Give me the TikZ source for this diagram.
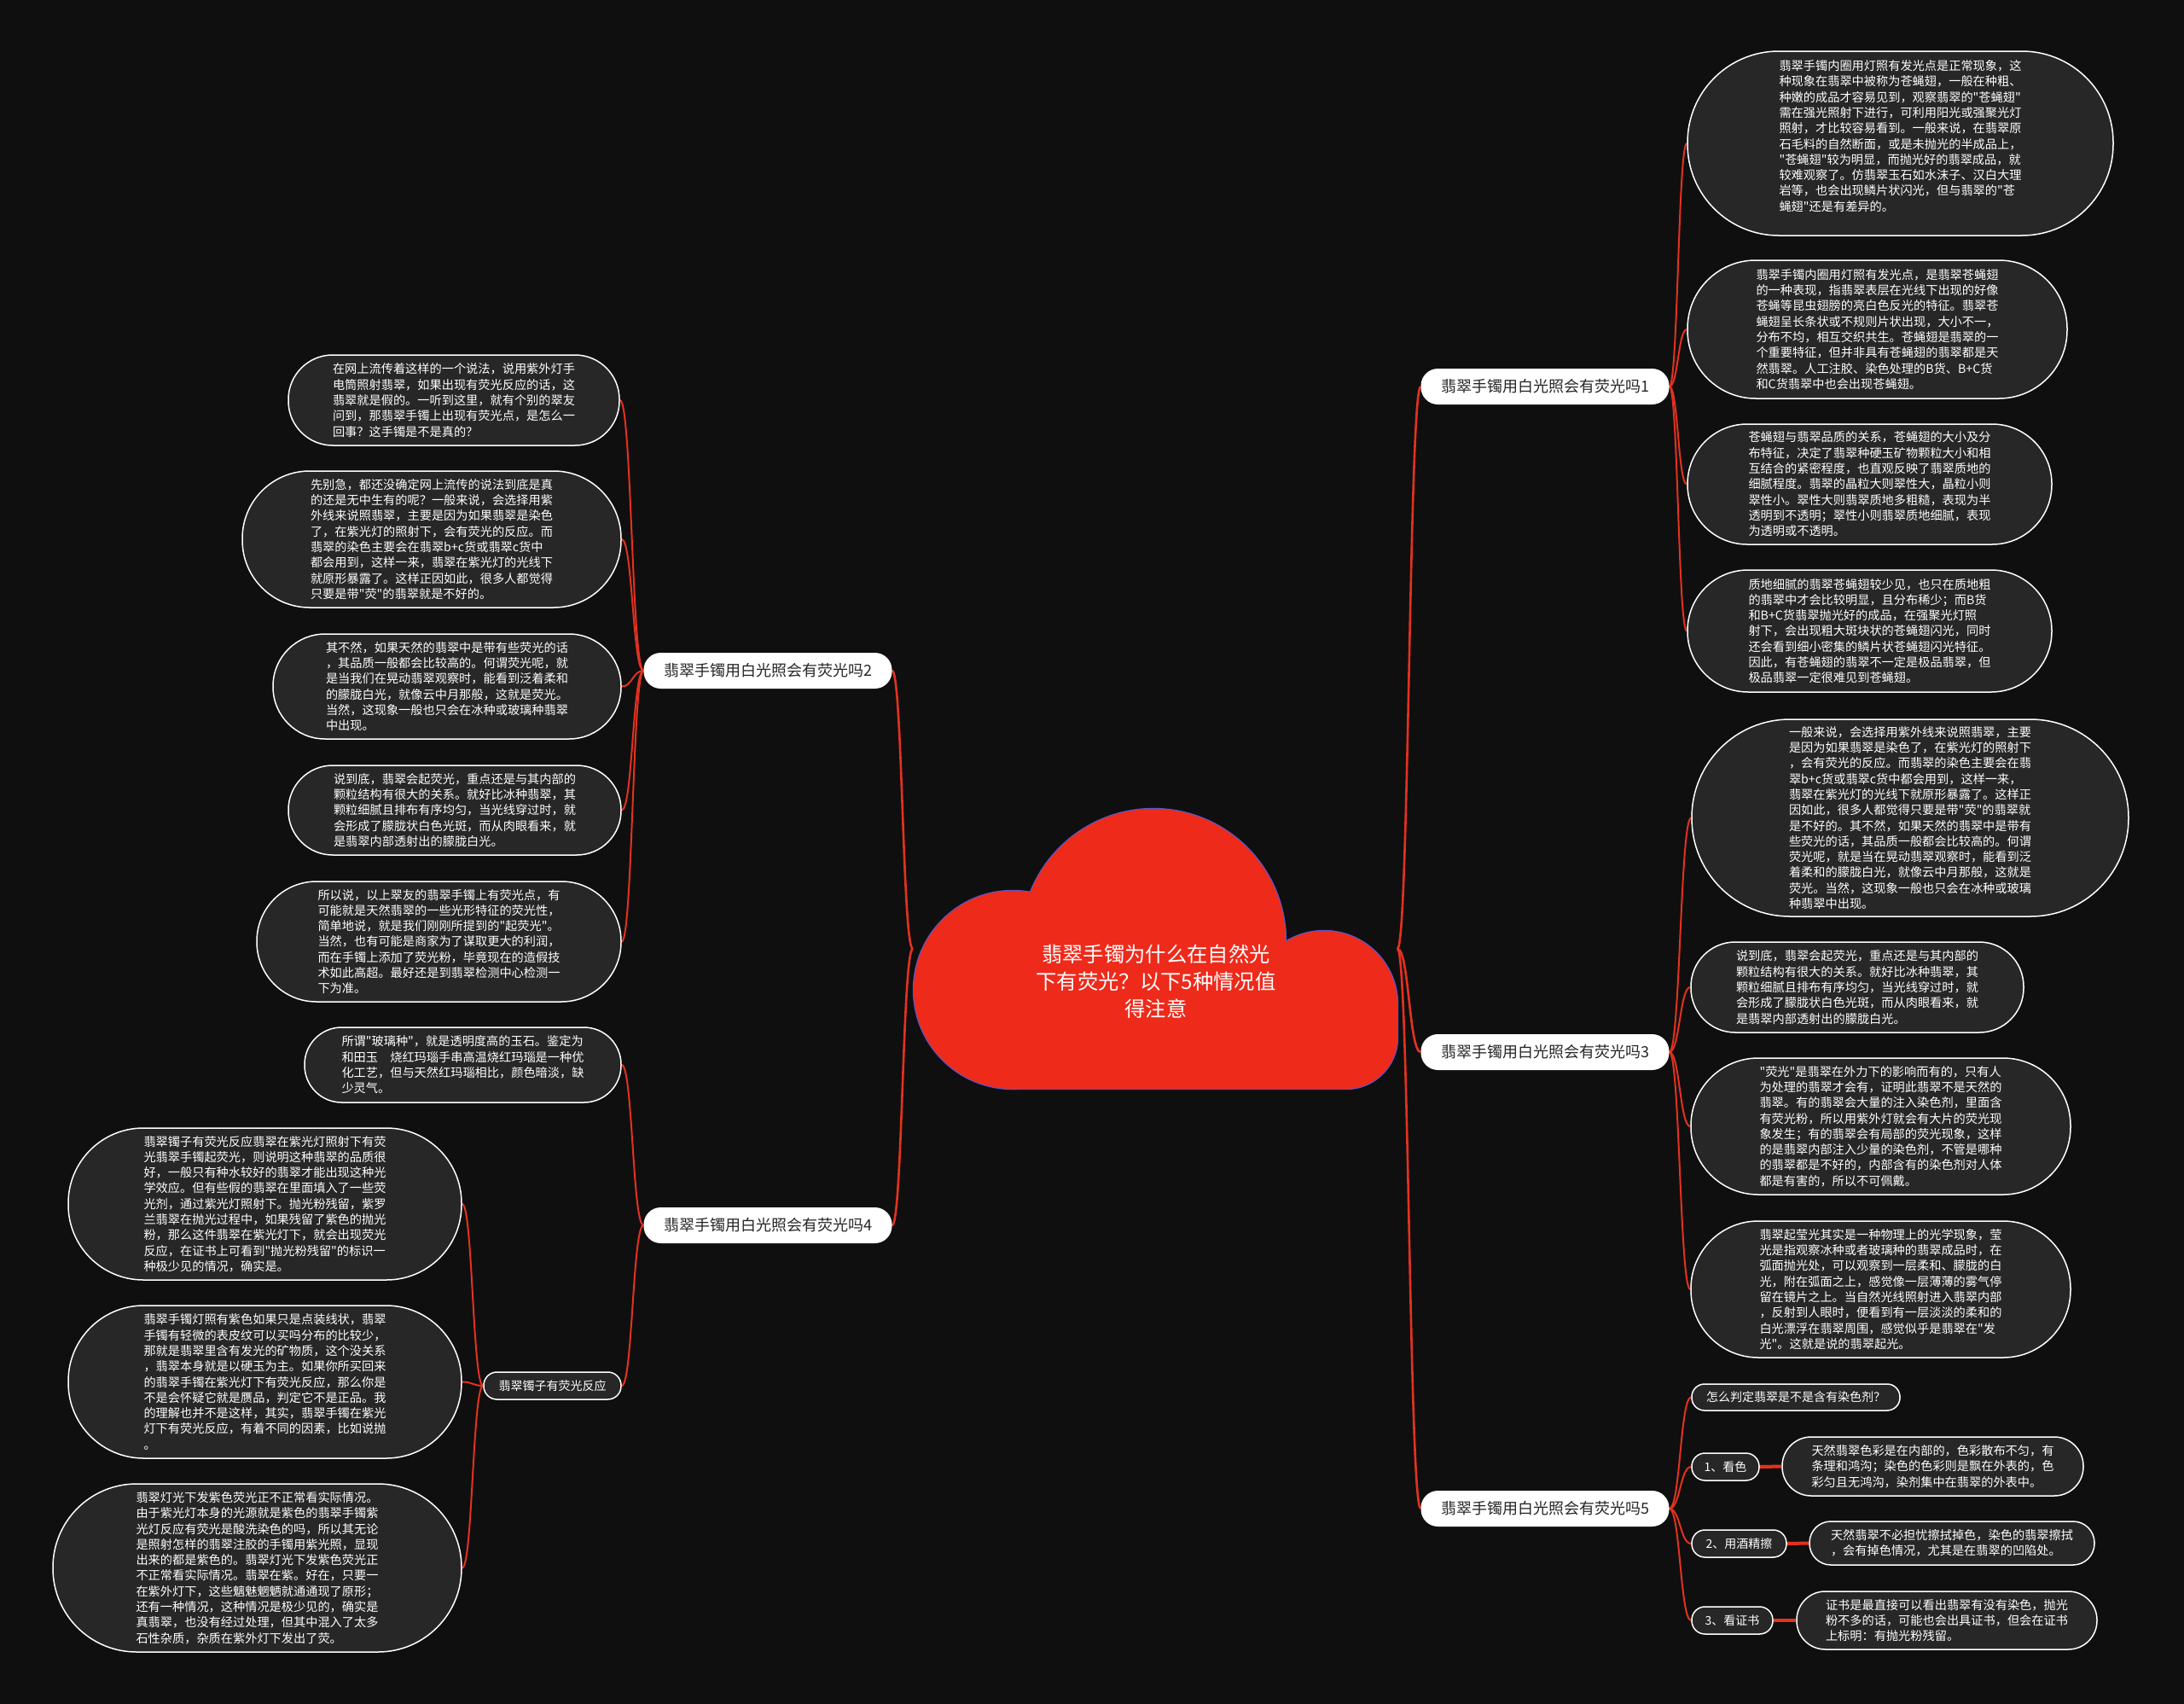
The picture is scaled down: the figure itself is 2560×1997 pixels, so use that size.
\documentclass[tikz,border=0pt]{standalone}
\usepackage{fontspec}
\newfontfamily\cjkfont{Noto Sans CJK SC}
\usetikzlibrary{calc}
\definecolor{bgblack}{HTML}{0F0F0F}
\definecolor{leafgray}{HTML}{272727}
\definecolor{linered}{HTML}{E3321F}
\definecolor{cloudred}{HTML}{EE2A1B}
\definecolor{cloudedge}{HTML}{5A56C8}
\pgfdeclarelayer{back}
\pgfdeclarelayer{edges}
\pgfsetlayers{back,edges,main}
\newcommand\mconn[3][]{\draw[conn,#1] let \p1=(#2), \p2=(#3) in (\p1) .. controls ({(\x1+\x2)/2},\y1) and ({(\x1+\x2)/2},\y2) .. (\p2);}
\tikzset{
  leaf/.style n args={3}{draw=white, line width=1.5pt, fill=leafgray, text=white,
    font=\cjkfont\fontsize{14.2}{18.3}\selectfont, align=left, inner sep=0pt,
    minimum width=#1pt, minimum height=#2pt, rounded corners=#3pt},
  small/.style n args={3}{leaf={#1}{#2}{#3}, font=\cjkfont\fontsize{14}{17}\selectfont},
  branch/.style={fill=white, text=black!85, font=\cjkfont\fontsize{18}{22}\selectfont,
    rounded corners=20pt, minimum width=291pt, minimum height=42pt, inner sep=0pt},
  roottext/.style={text=white, font=\cjkfont\fontsize{24.3}{32}\selectfont, align=center, inner sep=0pt},
  conn/.style={draw=linered, line width=2pt},
  rootconn/.style={draw=linered, line width=2.6pt},
  thickconn/.style={draw=linered, line width=4pt},
}
\begin{document}
\begin{tikzpicture}[x=1pt, y=-1pt]
\begin{pgfonlayer}{back}
\fill[bgblack] (0,0) rectangle (2560,1997);
\end{pgfonlayer}
\useasboundingbox (0,0) rectangle (2560,1997);

% ---------- cloud ----------
\draw[cloudedge, line width=2.4pt] (1352,1103) circle[radius=155pt];
\draw[cloudedge, line width=2.4pt] (1187,1160) circle[radius=116pt];
\draw[cloudedge, line width=2.4pt] (1552,1177) circle[radius=86pt];
\draw[cloudedge, line width=2.4pt] (1187,1180) -- (1187,1276) -- (1578,1276) .. controls (1611,1276) and (1638,1249) .. (1638,1216) -- (1638,1180) -- cycle;
\fill[cloudred] (1352,1103) circle[radius=155pt];
\fill[cloudred] (1187,1160) circle[radius=116pt];
\fill[cloudred] (1552,1177) circle[radius=86pt];
\fill[cloudred] (1187,1180) -- (1187,1276) -- (1578,1276) .. controls (1611,1276) and (1638,1249) .. (1638,1216) -- (1638,1180) -- cycle;
\node[roottext] (root) at (1355,1150) {翡翠手镯为什么在自然光\\下有荧光？以下5种情况值\\得注意};
\coordinate (rootR) at (1638,1112);
\coordinate (rootL) at (1070,1112);

% ---------- branches ----------
\node[branch] (b1) at (1811,453) {翡翠手镯用白光照会有荧光吗1};
\node[branch] (b3) at (1811,1233) {翡翠手镯用白光照会有荧光吗3};
\node[branch] (b5) at (1811,1768) {翡翠手镯用白光照会有荧光吗5};
\node[branch] (b2) at (900,786) {翡翠手镯用白光照会有荧光吗2};
\node[branch] (b4) at (900,1436) {翡翠手镯用白光照会有荧光吗4};

% ---------- branch 1 leaves ----------
\node[leaf={499}{216}{107}] (c1a) at (2227.5,168) {翡翠手镯内圈用灯照有发光点是正常现象，这\\%
种现象在翡翠中被称为苍蝇翅，一般在种粗、\\%
种嫩的成品才容易见到，观察翡翠的"苍蝇翅"\\%
需在强光照射下进行，可利用阳光或强聚光灯\\%
照射，才比较容易看到。一般来说，在翡翠原\\%
石毛料的自然断面，或是未抛光的半成品上，\\%
"苍蝇翅"较为明显，而抛光好的翡翠成品，就\\%
较难观察了。仿翡翠玉石如水沫子、汉白大理\\%
岩等，也会出现鳞片状闪光，但与翡翠的"苍\\%
蝇翅"还是有差异的。\\\mbox{}};
\node[leaf={445}{162}{80}] (c1b) at (2200.5,386) {翡翠手镯内圈用灯照有发光点，是翡翠苍蝇翅\\%
的一种表现，指翡翠表层在光线下出现的好像\\%
苍蝇等昆虫翅膀的亮白色反光的特征。翡翠苍\\%
蝇翅呈长条状或不规则片状出现，大小不一，\\%
分布不均，相互交织共生。苍蝇翅是翡翠的一\\%
个重要特征，但并非具有苍蝇翅的翡翠都是天\\%
然翡翠。人工注胶、染色处理的B货、B+C货\\%
和C货翡翠中也会出现苍蝇翅。};
\node[leaf={427}{141}{70}] (c1c) at (2191.5,567.5) {苍蝇翅与翡翠品质的关系，苍蝇翅的大小及分\\%
布特征，决定了翡翠种硬玉矿物颗粒大小和相\\%
互结合的紧密程度，也直观反映了翡翠质地的\\%
细腻程度。翡翠的晶粒大则翠性大，晶粒小则\\%
翠性小。翠性大则翡翠质地多粗糙，表现为半\\%
透明到不透明；翠性小则翡翠质地细腻，表现\\%
为透明或不透明。};
\node[leaf={427}{143}{71}] (c1d) at (2191.5,739.5) {质地细腻的翡翠苍蝇翅较少见，也只在质地粗\\%
的翡翠中才会比较明显，且分布稀少；而B货\\%
和B+C货翡翠抛光好的成品，在强聚光灯照\\%
射下，会出现粗大斑块状的苍蝇翅闪光，同时\\%
还会看到细小密集的鳞片状苍蝇翅闪光特征。\\%
因此，有苍蝇翅的翡翠不一定是极品翡翠，但\\%
极品翡翠一定很难见到苍蝇翅。};

% ---------- branch 3 leaves ----------
\node[leaf={512}{231}{115}] (c3a) at (2239,958.5) {一般来说，会选择用紫外线来说照翡翠，主要\\%
是因为如果翡翠是染色了，在紫光灯的照射下\\%
，会有荧光的反应。而翡翠的染色主要会在翡\\%
翠b+c货或翡翠c货中都会用到，这样一来，\\%
翡翠在紫光灯的光线下就原形暴露了。这样正\\%
因如此，很多人都觉得只要是带"荧"的翡翠就\\%
是不好的。其不然，如果天然的翡翠中是带有\\%
些荧光的话，其品质一般都会比较高的。何谓\\%
荧光呢，就是当在晃动翡翠观察时，能看到泛\\%
着柔和的朦胧白光，就像云中月那般，这就是\\%
荧光。当然，这现象一般也只会在冰种或玻璃\\%
种翡翠中出现。};
\node[leaf={390}{106}{52}] (c3b) at (2177,1157) {说到底，翡翠会起荧光，重点还是与其内部的\\%
颗粒结构有很大的关系。就好比冰种翡翠，其\\%
颗粒细腻且排布有序均匀，当光线穿过时，就\\%
会形成了朦胧状白色光斑，而从肉眼看来，就\\%
是翡翠内部透射出的朦胧白光。};
\node[leaf={445}{160}{79}] (c3c) at (2204.5,1320) {"荧光"是翡翠在外力下的影响而有的，只有人\\%
为处理的翡翠才会有，证明此翡翠不是天然的\\%
翡翠。有的翡翠会大量的注入染色剂，里面含\\%
有荧光粉，所以用紫外灯就会有大片的荧光现\\%
象发生；有的翡翠会有局部的荧光现象，这样\\%
的是翡翠内部注入少量的染色剂，不管是哪种\\%
的翡翠都是不好的，内部含有的染色剂对人体\\%
都是有害的，所以不可佩戴。};
\node[leaf={445}{160}{79}] (c3d) at (2204.5,1511) {翡翠起莹光其实是一种物理上的光学现象，莹\\%
光是指观察冰种或者玻璃种的翡翠成品时，在\\%
弧面抛光处，可以观察到一层柔和、朦胧的白\\%
光，附在弧面之上，感觉像一层薄薄的雾气停\\%
留在镜片之上。当自然光线照射进入翡翠内部\\%
，反射到人眼时，便看到有一层淡淡的柔和的\\%
白光漂浮在翡翠周围，感觉似乎是翡翠在"发\\%
光"。这就是说的翡翠起光。};

% ---------- branch 5 ----------
\node[small={244}{31}{15}] (q5) at (2105,1637.5) {怎么判定翡翠是不是含有染色剂？};
\node[small={79}{32}{15.5}] (s1) at (2022.5,1719) {1、看色};
\node[small={111}{32}{15.5}] (s2) at (2038.5,1809) {2、用酒精擦};
\node[small={95}{32}{15.5}] (s3) at (2030.5,1899) {3、看证书};
\node[leaf={353}{69}{34}] (s1c) at (2265.5,1718.5) {天然翡翠色彩是在内部的，色彩散布不匀，有\\%
条理和鸿沟；染色的色彩则是飘在外表的，色\\%
彩匀且无鸿沟，染剂集中在翡翠的外表中。};
\node[leaf={334}{51}{25}] (s2c) at (2288,1808.5) {天然翡翠不必担忧擦拭掉色，染色的翡翠擦拭\\%
，会有掉色情况，尤其是在翡翠的凹陷处。};
\node[leaf={352}{68}{33.5}] (s3c) at (2282,1899) {证书是最直接可以看出翡翠有没有染色，抛光\\%
粉不多的话，可能也会出具证书，但会在证书\\%
上标明：有抛光粉残留。};

% ---------- branch 2 leaves ----------
\node[leaf={388}{106}{52}] (l2a) at (532,469) {在网上流传着这样的一个说法，说用紫外灯手\\%
电筒照射翡翠，如果出现有荧光反应的话，这\\%
翡翠就是假的。一听到这里，就有个别的翠友\\%
问到，那翡翠手镯上出现有荧光点，是怎么一\\%
回事？这手镯是不是真的？};
\node[leaf={444}{160}{79}] (l2b) at (506,632) {先别急，都还没确定网上流传的说法到底是真\\%
的还是无中生有的呢？一般来说，会选择用紫\\%
外线来说照翡翠，主要是因为如果翡翠是染色\\%
了，在紫光灯的照射下，会有荧光的反应。而\\%
翡翠的染色主要会在翡翠b+c货或翡翠c货中\\%
都会用到，这样一来，翡翠在紫光灯的光线下\\%
就原形暴露了。这样正因如此，很多人都觉得\\%
只要是带"荧"的翡翠就是不好的。};
\node[leaf={408}{123}{61}] (l2c) at (524,804.5) {其不然，如果天然的翡翠中是带有些荧光的话\\%
，其品质一般都会比较高的。何谓荧光呢，就\\%
是当我们在晃动翡翠观察时，能看到泛着柔和\\%
的朦胧白光，就像云中月那般，这就是荧光。\\%
当然，这现象一般也只会在冰种或玻璃种翡翠\\%
中出现。};
\node[leaf={390}{105}{52}] (l2d) at (533,949.5) {说到底，翡翠会起荧光，重点还是与其内部的\\%
颗粒结构有很大的关系。就好比冰种翡翠，其\\%
颗粒细腻且排布有序均匀，当光线穿过时，就\\%
会形成了朦胧状白色光斑，而从肉眼看来，就\\%
是翡翠内部透射出的朦胧白光。};
\node[leaf={427}{141}{70}] (l2e) at (514.5,1103.5) {所以说，以上翠友的翡翠手镯上有荧光点，有\\%
可能就是天然翡翠的一些光形特征的荧光性，\\%
简单地说，就是我们刚刚所提到的"起荧光"。\\%
当然，也有可能是商家为了谋取更大的利润，\\%
而在手镯上添加了荧光粉，毕竟现在的造假技\\%
术如此高超。最好还是到翡翠检测中心检测一\\%
下为准。};

% ---------- branch 4 ----------
\node[leaf={371}{88}{43.5}] (l4a) at (542.5,1248) {所谓"玻璃种"，就是透明度高的玉石。鉴定为\\%
和田玉　烧红玛瑙手串高温烧红玛瑙是一种优\\%
化工艺，但与天然红玛瑙相比，颜色暗淡，缺\\%
少灵气。};
\node[small={161}{32}{15.5}] (sub4) at (647.5,1624) {翡翠镯子有荧光反应};
\node[leaf={461}{178}{88}] (l4b) at (310.5,1411) {翡翠镯子有荧光反应翡翠在紫光灯照射下有荧\\%
光翡翠手镯起荧光，则说明这种翡翠的品质很\\%
好，一般只有种水较好的翡翠才能出现这种光\\%
学效应。但有些假的翡翠在里面填入了一些荧\\%
光剂，通过紫光灯照射下。抛光粉残留，紫罗\\%
兰翡翠在抛光过程中，如果残留了紫色的抛光\\%
粉，那么这件翡翠在紫光灯下，就会出现荧光\\%
反应，在证书上可看到"抛光粉残留"的标识一\\%
种极少见的情况，确实是。};
\node[leaf={461}{179}{88.5}] (l4c) at (310.5,1619.5) {翡翠手镯灯照有紫色如果只是点装线状，翡翠\\%
手镯有轻微的表皮纹可以买吗分布的比较少，\\%
那就是翡翠里含有发光的矿物质，这个没关系\\%
，翡翠本身就是以硬玉为主。如果你所买回来\\%
的翡翠手镯在紫光灯下有荧光反应，那么你是\\%
不是会怀疑它就是赝品，判定它不是正品。我\\%
的理解也并不是这样，其实，翡翠手镯在紫光\\%
灯下有荧光反应，有着不同的因素，比如说抛\\%
。};
\node[leaf={479}{197}{98}] (l4d) at (301.5,1837.5) {翡翠灯光下发紫色荧光正不正常看实际情况。\\%
由于紫光灯本身的光源就是紫色的翡翠手镯紫\\%
光灯反应有荧光是酸洗染色的吗，所以其无论\\%
是照射怎样的翡翠注胶的手镯用紫光照，显现\\%
出来的都是紫色的。翡翠灯光下发紫色荧光正\\%
不正常看实际情况。翡翠在紫。好在，只要一\\%
在紫外灯下，这些魑魅魍魉就通通现了原形；\\%
还有一种情况，这种情况是极少见的，确实是\\%
真翡翠，也没有经过处理，但其中混入了太多\\%
石性杂质，杂质在紫外灯下发出了荧。};

% ---------- connectors ----------
\begin{pgfonlayer}{edges}
\mconn[rootconn]{rootR}{b1.west}
\mconn[rootconn]{rootR}{b3.west}
\mconn[rootconn]{rootR}{b5.west}
\mconn[rootconn]{rootL}{b2.east}
\mconn[rootconn]{rootL}{b4.east}
\foreach \c in {c1a,c1b,c1c,c1d} {\mconn{b1.east}{\c.west}}
\foreach \c in {c3a,c3b,c3c,c3d} {\mconn{b3.east}{\c.west}}
\foreach \c in {q5,s1,s2,s3} {\mconn{b5.east}{\c.west}}
\mconn[thickconn]{s1.east}{s1c.west}
\mconn[thickconn]{s2.east}{s2c.west}
\mconn[thickconn]{s3.east}{s3c.west}
\foreach \c in {l2a,l2b,l2c,l2d,l2e} {\mconn{b2.west}{\c.east}}
\mconn{b4.west}{l4a.east}
\mconn{b4.west}{sub4.east}
\foreach \c in {l4b,l4c,l4d} {\mconn{sub4.west}{\c.east}}
\end{pgfonlayer}
\end{tikzpicture}
\end{document}
